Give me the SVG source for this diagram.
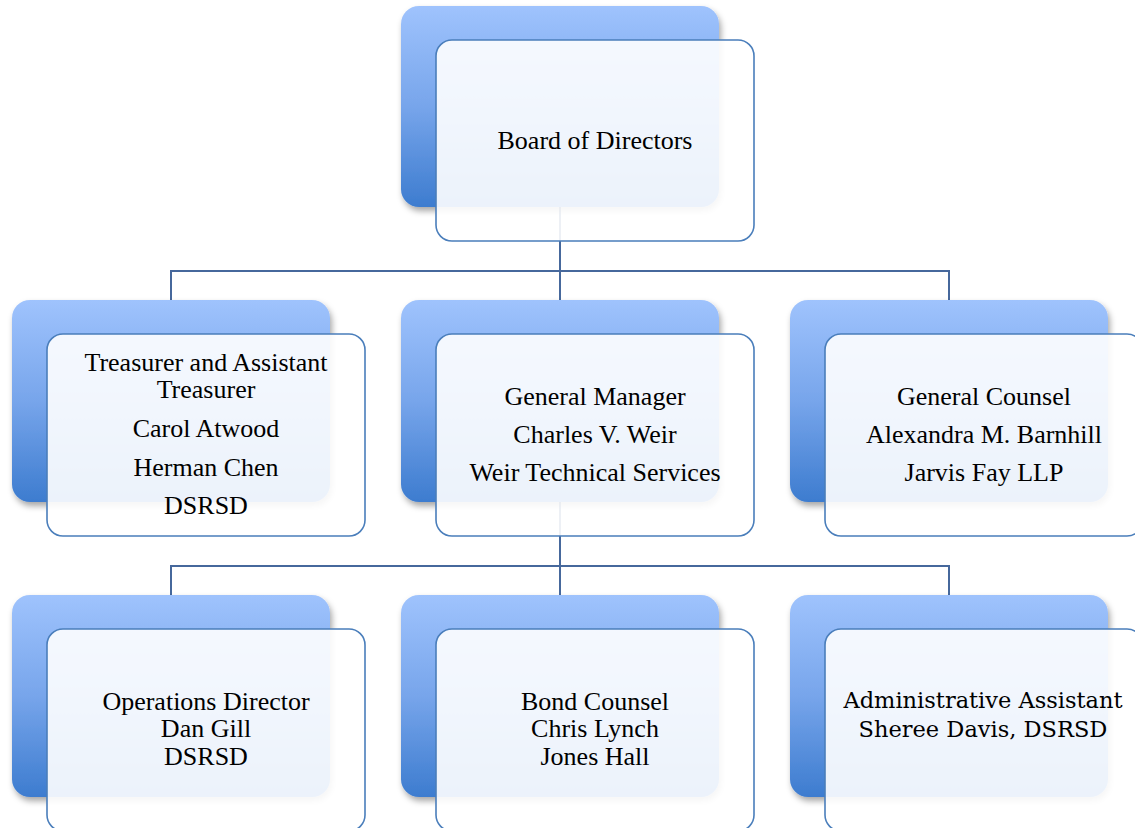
<svg xmlns="http://www.w3.org/2000/svg" width="1135" height="828" viewBox="0 0 1135 828">
<defs>
<linearGradient id="bg" x1="0" y1="0" x2="0" y2="1">
<stop offset="0" stop-color="#9fc3fd"/>
<stop offset="0.5" stop-color="#77a5eb"/>
<stop offset="1" stop-color="#3d7ccf"/>
</linearGradient>
<filter id="sh" x="-10%" y="-10%" width="125%" height="130%">
<feDropShadow dx="2" dy="4" stdDeviation="3" flood-color="#000" flood-opacity="0.35"/>
</filter>
</defs>
<style>
.back{fill:url(#bg);filter:url(#sh)}
.front{fill:#fff;fill-opacity:0.9;stroke:#4a7ebb;stroke-width:1.6}
.conn{fill:none;stroke:#46689c;stroke-width:2}
text{font-family:"Liberation Serif","Times New Roman",serif;font-size:26px;fill:#000;text-anchor:middle}
.alt{font-family:"DejaVu Serif",serif;font-size:22.5px}
</style>
<rect width="1135" height="828" fill="#fff"/>
<g id="connectors">
<path class="conn" d="M560 207 V271 M171 300 V271 H949 V300 M560 271 V300"/>
<path class="conn" d="M560 502 V566 M171 595 V566 H949 V595 M560 566 V595"/>
</g>
<g id="board">
<rect class="back" x="401" y="6" width="318" height="201" rx="18"/>
<rect class="front" x="436" y="40" width="318" height="201" rx="16"/>
<text x="595" y="149">Board of Directors</text>
</g>
<g id="treasurer">
<rect class="back" x="12" y="300" width="318" height="202" rx="18"/>
<rect class="front" x="47" y="334" width="318" height="202" rx="16"/>
<text x="206" y="371">Treasurer and Assistant</text>
<text x="206" y="398">Treasurer</text>
<text x="206" y="437">Carol Atwood</text>
<text x="206" y="476">Herman Chen</text>
<text x="206" y="514">DSRSD</text>
</g>
<g id="general-manager">
<rect class="back" x="401" y="300" width="318" height="202" rx="18"/>
<rect class="front" x="436" y="334" width="318" height="202" rx="16"/>
<text x="595" y="405">General Manager</text>
<text x="595" y="443">Charles V. Weir</text>
<text x="595" y="481">Weir Technical Services</text>
</g>
<g id="general-counsel">
<rect class="back" x="790" y="300" width="318" height="202" rx="18"/>
<rect class="front" x="825" y="334" width="318" height="202" rx="16"/>
<text x="984" y="405">General Counsel</text>
<text x="984" y="443">Alexandra M. Barnhill</text>
<text x="984" y="481">Jarvis Fay LLP</text>
</g>
<g id="operations">
<rect class="back" x="12" y="595" width="318" height="202" rx="18"/>
<rect class="front" x="47" y="629" width="318" height="202" rx="16"/>
<text x="206" y="710">Operations Director</text>
<text x="206" y="737">Dan Gill</text>
<text x="206" y="765">DSRSD</text>
</g>
<g id="bond-counsel">
<rect class="back" x="401" y="595" width="318" height="202" rx="18"/>
<rect class="front" x="436" y="629" width="318" height="202" rx="16"/>
<text x="595" y="710">Bond Counsel</text>
<text x="595" y="737">Chris Lynch</text>
<text x="595" y="765">Jones Hall</text>
</g>
<g id="admin-assistant">
<rect class="back" x="790" y="595" width="318" height="202" rx="18"/>
<rect class="front" x="825" y="629" width="318" height="202" rx="16"/>
<text class="alt" x="983" y="708">Administrative Assistant</text>
<text class="alt" x="983" y="737">Sheree Davis, DSRSD</text>
</g>
</svg>
